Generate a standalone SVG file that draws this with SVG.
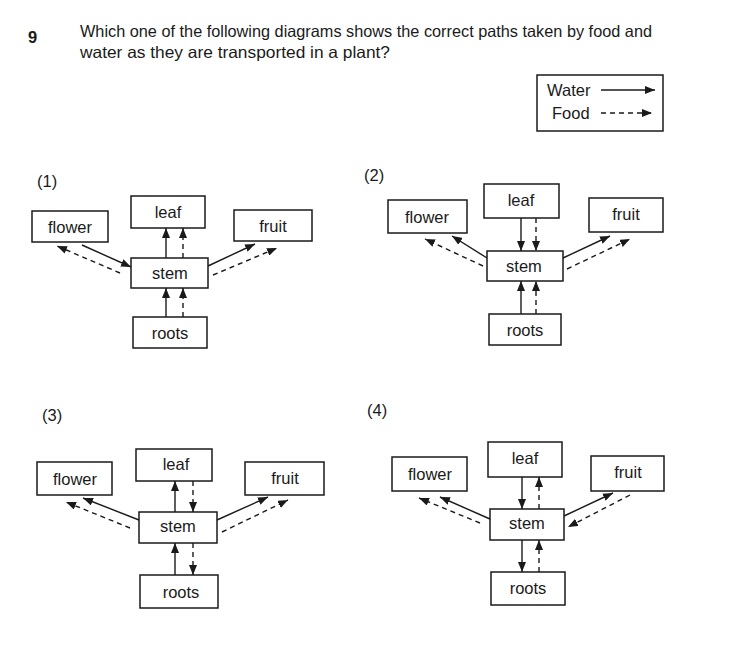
<svg xmlns="http://www.w3.org/2000/svg" width="731" height="660" viewBox="0 0 731 660">
<defs>
<marker id="ah" viewBox="0 0 10 8" refX="10" refY="4" markerWidth="10" markerHeight="8" markerUnits="userSpaceOnUse" orient="auto">
<path d="M0,0 L10,4 L0,8 z" fill="#1a1a1a"/>
</marker>
<style>
.box{fill:#fff;stroke:#1a1a1a;stroke-width:1.5}
.lbl{font-family:"Liberation Sans",Arial,sans-serif;font-size:16.5px;fill:#1a1a1a;text-anchor:middle;dominant-baseline:central}
.q{font-family:"Liberation Sans",Arial,sans-serif;font-size:16.5px;fill:#1a1a1a}
.num{font-family:"Liberation Sans",Arial,sans-serif;font-size:16.5px;fill:#1a1a1a}
.w{stroke:#1a1a1a;stroke-width:1.4;fill:none;marker-end:url(#ah)}
.f{stroke:#1a1a1a;stroke-width:1.4;fill:none;stroke-dasharray:5 4;marker-end:url(#ah)}
</style>
</defs>
<rect width="731" height="660" fill="#fff"/>

<g id="question">
<text class="q" x="28" y="43" font-weight="bold" font-size="16">9</text>
<text class="q" x="80" y="37" textLength="572" lengthAdjust="spacingAndGlyphs">Which one of the following diagrams shows the correct paths taken by food and</text>
<text class="q" x="80" y="58" textLength="310" lengthAdjust="spacingAndGlyphs">water as they are transported in a plant?</text>
</g>

<g id="legend">
<rect class="box" x="537" y="75" width="126" height="56"/>
<text class="q" x="547" y="96" font-size="15.5">Water</text>
<text class="q" x="552" y="119" font-size="15.5">Food</text>
<line class="w" x1="601" y1="90" x2="655" y2="90"/>
<line class="f" x1="601" y1="113" x2="652" y2="113"/>
</g>

<g id="labels">
<text class="num" x="37" y="187">(1)</text>
<text class="num" x="364" y="181">(2)</text>
<text class="num" x="42" y="421">(3)</text>
<text class="num" x="367" y="416" font-family="Liberation Serif, serif" font-size="17.5">(4)</text>
</g>

<!-- Diagram 1 -->
<g id="d1-flower"><rect class="box" x="32" y="211" width="76" height="31"/><text class="lbl" x="70" y="227">flower</text></g>
<g id="d1-leaf"><rect class="box" x="131" y="196" width="74" height="32"/><text class="lbl" x="168" y="212">leaf</text></g>
<g id="d1-fruit"><rect class="box" x="234" y="210" width="78" height="31"/><text class="lbl" x="273" y="226">fruit</text></g>
<g id="d1-stem"><rect class="box" x="131" y="258" width="77" height="30"/><text class="lbl" x="170" y="273">stem</text></g>
<g id="d1-roots"><rect class="box" x="133" y="317" width="74" height="31"/><text class="lbl" x="170" y="333">roots</text></g>

<!-- Diagram 2 -->
<g id="d2-flower"><rect class="box" x="388" y="200" width="79" height="33"/><text class="lbl" x="427" y="217">flower</text></g>
<g id="d2-leaf"><rect class="box" x="484" y="184" width="75" height="34"/><text class="lbl" x="521" y="200">leaf</text></g>
<g id="d2-fruit"><rect class="box" x="589" y="198" width="74" height="34"/><text class="lbl" x="626" y="214">fruit</text></g>
<g id="d2-stem"><rect class="box" x="487" y="251" width="76" height="30"/><text class="lbl" x="524" y="266">stem</text></g>
<g id="d2-roots"><rect class="box" x="489" y="314" width="72" height="31"/><text class="lbl" x="525" y="330">roots</text></g>

<!-- Diagram 3 -->
<g id="d3-flower"><rect class="box" x="37" y="462" width="75" height="33"/><text class="lbl" x="75" y="479">flower</text></g>
<g id="d3-leaf"><rect class="box" x="136" y="449" width="76" height="32"/><text class="lbl" x="176" y="464">leaf</text></g>
<g id="d3-fruit"><rect class="box" x="245" y="462" width="79" height="33"/><text class="lbl" x="285" y="478">fruit</text></g>
<g id="d3-stem"><rect class="box" x="139" y="512" width="78" height="31"/><text class="lbl" x="178" y="526">stem</text></g>
<g id="d3-roots"><rect class="box" x="140" y="575" width="78" height="33"/><text class="lbl" x="181" y="592">roots</text></g>

<!-- Diagram 4 -->
<g id="d4-flower"><rect class="box" x="392" y="457" width="75" height="34"/><text class="lbl" x="430" y="474">flower</text></g>
<g id="d4-leaf"><rect class="box" x="488" y="442" width="74" height="35"/><text class="lbl" x="525" y="458">leaf</text></g>
<g id="d4-fruit"><rect class="box" x="591" y="456" width="73" height="35"/><text class="lbl" x="628" y="472">fruit</text></g>
<g id="d4-stem"><rect class="box" x="490" y="509" width="74" height="31"/><text class="lbl" x="527" y="523">stem</text></g>
<g id="d4-roots"><rect class="box" x="491" y="572" width="74" height="33"/><text class="lbl" x="528" y="588">roots</text></g>

<g id="connectors">
<!-- 1 -->
<line class="w" x1="166" y1="258" x2="166" y2="228"/>
<line class="f" x1="183" y1="258" x2="183" y2="228"/>
<line class="w" x1="166" y1="317" x2="166" y2="288"/>
<line class="f" x1="183" y1="317" x2="183" y2="288"/>
<line class="w" x1="82" y1="245" x2="131" y2="267"/>
<line class="f" x1="120" y1="273" x2="57" y2="246"/>
<line class="w" x1="208" y1="266" x2="255" y2="244"/>
<line class="f" x1="213" y1="275" x2="277" y2="248"/>
<!-- 2 -->
<line class="w" x1="521" y1="218" x2="521" y2="251"/>
<line class="f" x1="536" y1="218" x2="536" y2="251"/>
<line class="w" x1="521" y1="314" x2="521" y2="281"/>
<line class="f" x1="536" y1="314" x2="536" y2="281"/>
<line class="w" x1="487" y1="258" x2="452" y2="236"/>
<line class="f" x1="483" y1="266" x2="425" y2="239"/>
<line class="w" x1="563" y1="258" x2="610" y2="236"/>
<line class="f" x1="567" y1="269" x2="630" y2="239"/>
<!-- 3 -->
<line class="w" x1="175" y1="512" x2="175" y2="481"/>
<line class="f" x1="193" y1="481" x2="193" y2="512"/>
<line class="w" x1="175" y1="575" x2="175" y2="543"/>
<line class="f" x1="193" y1="543" x2="193" y2="575"/>
<line class="w" x1="139" y1="520" x2="83" y2="498"/>
<line class="f" x1="130" y1="528" x2="66" y2="502"/>
<line class="w" x1="217" y1="520" x2="268" y2="497"/>
<line class="f" x1="222" y1="532" x2="288" y2="500"/>
<!-- 4 -->
<line class="w" x1="522" y1="477" x2="522" y2="509"/>
<line class="f" x1="539" y1="509" x2="539" y2="477"/>
<line class="w" x1="522" y1="540" x2="522" y2="572"/>
<line class="f" x1="539" y1="572" x2="539" y2="540"/>
<line class="w" x1="490" y1="519" x2="440" y2="497"/>
<line class="f" x1="480" y1="523" x2="419" y2="498"/>
<line class="w" x1="564" y1="516" x2="613" y2="493"/>
<line class="f" x1="630" y1="495" x2="568" y2="527"/>
</g>
</svg>
